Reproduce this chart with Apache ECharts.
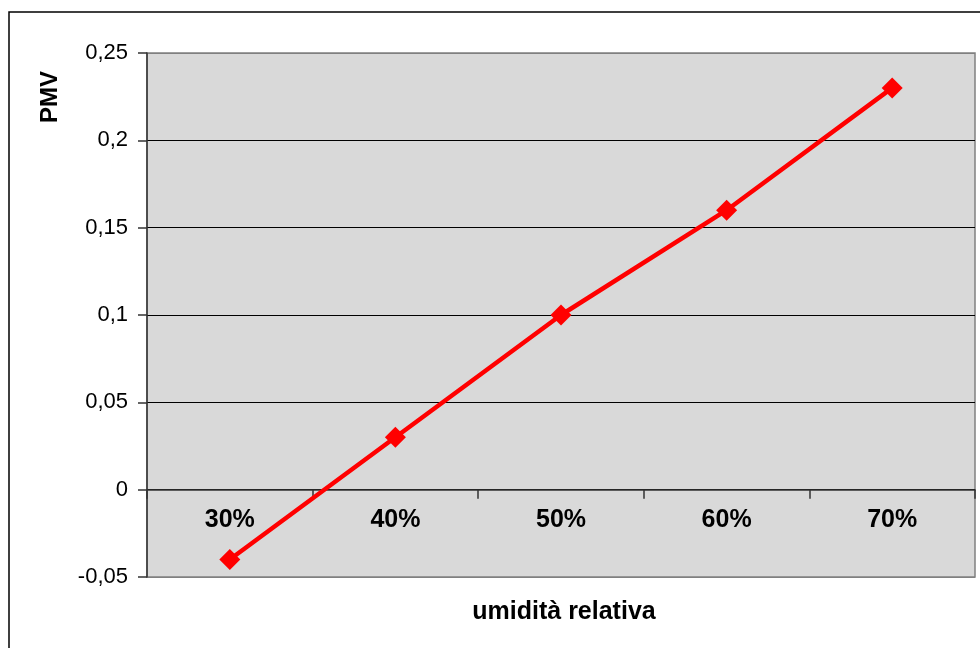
<!DOCTYPE html>
<html>
<head>
<meta charset="utf-8">
<script src="https://cdn.jsdelivr.net/npm/echarts@6/dist/echarts.min.js"></script>
<style>html,body{margin:0;padding:0;background:#fff;}#c{width:980px;height:648px;}</style>
</head>
<body>
<div id="c"></div>
<script>
var categories = ['30%', '40%', '50%', '60%', '70%'];
var pmvValues = [-0.04, 0.03, 0.10, 0.16, 0.23];
var yTicks = { min: -0.05, max: 0.25, interval: 0.05 };
var xTitle = 'umidità relativa';
var yTitle = 'PMV';

var chart = echarts.init(document.getElementById('c'), null, { renderer: 'canvas' });
var fontFam = '"Liberation Sans", Arial, sans-serif';
var gridTop = 53, gridBottom = 71, H = 648;
var plotH = H - gridTop - gridBottom;
var zeroOffset = -plotH * (0 - yTicks.min) / (yTicks.max - yTicks.min);
chart.setOption({
  animation: false,
  backgroundColor: '#ffffff',
  grid: {
    left: 147, right: 5, top: gridTop, bottom: gridBottom,
    show: true, backgroundColor: '#D9D9D9', borderColor: '#808080', borderWidth: 1.5
  },
  graphic: [
    { type: 'rect', z: -10, shape: { x: 9, y: 12, width: 1000, height: 700 },
      style: { fill: 'none', stroke: '#000', lineWidth: 1.5 } },
    { type: 'text', x: 50, y: 97, rotation: Math.PI / 2,
      style: { text: yTitle, font: 'bold 24px ' + fontFam, fill: '#000', align: 'center', verticalAlign: 'middle' } },
    { type: 'text', x: 564, y: 612,
      style: { text: xTitle, font: 'bold 25px ' + fontFam, fill: '#000', align: 'center', verticalAlign: 'middle' } }
  ],
  xAxis: {
    type: 'category',
    data: categories,
    boundaryGap: true,
    offset: zeroOffset,
    axisLine: { onZero: false, lineStyle: { color: '#333', width: 1.5 } },
    axisTick: { show: true, length: 9, lineStyle: { color: '#333', width: 1.5 } },
    axisLabel: { color: '#000', fontFamily: fontFam, fontWeight: 'bold', fontSize: 25, margin: 18 },
    splitLine: { show: false }
  },
  yAxis: {
    type: 'value',
    min: yTicks.min, max: yTicks.max, interval: yTicks.interval,
    axisLine: { show: true, lineStyle: { color: '#333', width: 1.5 } },
    axisTick: { show: true, length: 9, lineStyle: { color: '#333', width: 1.5 } },
    axisLabel: {
      color: '#000', fontFamily: fontFam, fontSize: 22, margin: 19,
      formatter: function (v) { return String(Math.round(v * 100) / 100).replace('.', ','); }
    },
    splitLine: { show: true, lineStyle: { color: ['#808080', '#000', '#000', '#000', '#000', '#000', '#808080'], width: 1.2 } }
  },
  series: [{
    type: 'line',
    data: pmvValues,
    symbol: 'diamond',
    symbolSize: 21,
    lineStyle: { color: '#FF0000', width: 4.5 },
    itemStyle: { color: '#FF0000' },
    z: 5
  }]
});
</script>
</body>
</html>
